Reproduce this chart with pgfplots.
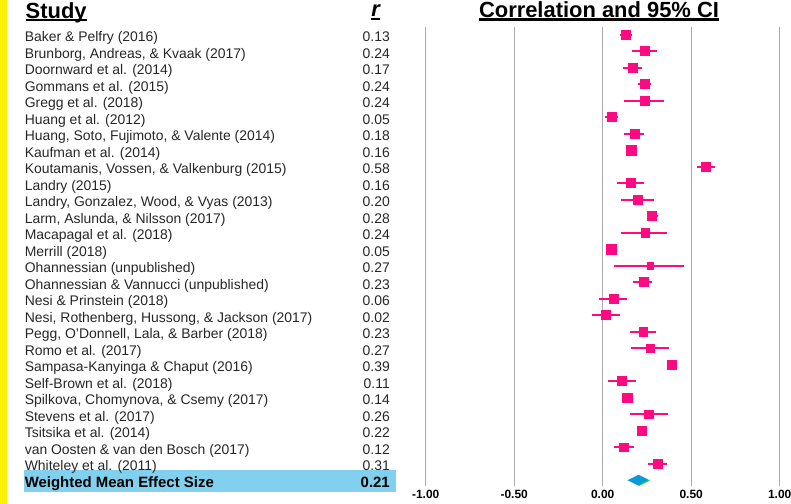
\documentclass[border=0pt]{standalone}
\usepackage{pgfplots}
\pgfplotsset{compat=1.18}
\usepackage{pgfplotstable}
\usepackage{fontspec}
\setmainfont{Liberation Sans}
\definecolor{fpink}{HTML}{FF0A80}
\definecolor{mblue}{HTML}{80D0EE}
\definecolor{dblue}{HTML}{0A9ADA}
\definecolor{ygreen}{HTML}{33DD33}
\definecolor{gline}{HTML}{ABABAB}
\newcommand\ulbox[3]{\setbox0\hbox{#3}\rlap{\rule[-#1]{\wd0}{#2}}\box0}
\newcommand\lab[2]{\hbox to 365bp{#1\hfill #2}}

\pgfplotstableread{
row r lo hi sz
0 0.13 0.098 0.164 4.5
1 0.24 0.164 0.307 4.5
2 0.17 0.113 0.224 4.5
3 0.24 0.201 0.271 4.5
4 0.24 0.122 0.345 4.5
5 0.05 0.011 0.085 4.5
6 0.18 0.122 0.235 4.5
7 0.16 0.140 0.180 4.8
8 0.58 0.531 0.635 4.5
9 0.16 0.081 0.235 4.5
10 0.20 0.102 0.288 4.5
11 0.28 0.249 0.314 4.5
12 0.24 0.102 0.362 4.2
13 0.05 0.030 0.070 4.8
14 0.27 0.066 0.458 3.3
15 0.23 0.173 0.280 4.5
16 0.06 -0.019 0.136 4.5
17 0.02 -0.059 0.098 4.5
18 0.23 0.153 0.299 4.3
19 0.27 0.162 0.375 4.3
20 0.39 0.370 0.410 4.8
21 0.11 0.032 0.186 4.5
22 0.14 0.120 0.160 4.8
23 0.26 0.153 0.367 4.3
24 0.22 0.200 0.240 4.7
25 0.12 0.062 0.179 4.3
26 0.31 0.258 0.362 4.5
}\studies

\begin{document}
\begin{tikzpicture}
\useasboundingbox (0,0) rectangle (791bp,-504bp);
\fill[yellow] (0,0) rectangle (7.3bp,-504bp);
\fill[mblue] (24bp,-470bp) rectangle (396bp,-492bp);
\node[anchor=base west, inner sep=0pt, font=\bfseries\fontsize{22}{22}\selectfont] at (25.5bp,-18bp) {\ulbox{3bp}{2bp}{Study}};
\node[anchor=base east, inner sep=0pt, font=\bfseries\itshape\fontsize{22}{22}\selectfont] at (380bp,-16bp) {\ulbox{3.5bp}{2bp}{r}};
\node[anchor=base, inner sep=0pt, font=\bfseries\fontsize{22}{22}\selectfont] at (599bp,-17bp) {\ulbox{3.5bp}{2.3bp}{Correlation and 95\% CI}};
\begin{axis}[
 at={(408bp,-27bp)}, anchor=north west,
 scale only axis, width=389.4bp, height=459bp,
 xmin=-1.1, xmax=1.1, ymin=-0.467, ymax=27.35, y dir=reverse,
 axis line style={draw=none}, tick style={draw=none}, major tick length=0pt,
 xmajorgrids, grid style={gline, line width=1.3bp},
 xtick={-1,-0.5,0,0.5,1},
 xticklabels={-1.00,-0.50,0.00,0.50,1.00},
 xticklabel style={font=\bfseries\fontsize{12}{12}\selectfont, inner sep=0pt, anchor=north, yshift=-3.5bp},
 ytick={0,...,27},
 yticklabels={
 {\lab{Baker \& Pelfry (2016)}{0.13}},
 {\lab{Brunborg, Andreas, \& Kvaak (2017)}{0.24}},
 {\lab{Doornward et al. (2014)}{0.17}},
 {\lab{Gommans et al. (2015)}{0.24}},
 {\lab{Gregg et al. (2018)}{0.24}},
 {\lab{Huang et al. (2012)}{0.05}},
 {\lab{Huang, Soto, Fujimoto, \& Valente (2014)}{0.18}},
 {\lab{Kaufman et al. (2014)}{0.16}},
 {\lab{Koutamanis, Vossen, \& Valkenburg (2015)}{0.58}},
 {\lab{Landry (2015)}{0.16}},
 {\lab{Landry, Gonzalez, Wood, \& Vyas (2013)}{0.20}},
 {\lab{Larm, Aslunda, \& Nilsson (2017)}{0.28}},
 {\lab{Macapagal et al. (2018)}{0.24}},
 {\lab{Merrill (2018)}{0.05}},
 {\lab{Ohannessian (unpublished)}{0.27}},
 {\lab{Ohannessian \& Vannucci (unpublished)}{0.23}},
 {\lab{Nesi \& Prinstein (2018)}{0.06}},
 {\lab{Nesi, Rothenberg, Hussong, \& Jackson (2017)}{0.02}},
 {\lab{Pegg, O'Donnell, Lala, \& Barber (2018)}{0.23}},
 {\lab{Romo et al. (2017)}{0.27}},
 {\lab{Sampasa-Kanyinga \& Chaput (2016)}{0.39}},
 {\lab{Self-Brown et al. (2018)}{0.11}},
 {\lab{Spilkova, Chomynova, \& Csemy (2017)}{0.14}},
 {\lab{Stevens et al. (2017)}{0.26}},
 {\lab{Tsitsika et al. (2014)}{0.22}},
 {\lab{van Oosten \& van den Bosch (2017)}{0.12}},
 {\lab{Whiteley et al. (2011)}{0.31}},
 {\hbox to 365bp{\color{black}\bfseries\fontsize{15}{15}\selectfont Weighted Mean Effect Size\hfill 0.21}}
 },
 yticklabel style={anchor=base east, inner sep=0pt, xshift=-18bp, yshift=-7bp, font=\fontsize{14}{14}\selectfont, text=black!85},
 clip=false,
]
\addplot[draw=none, mark=none, forget plot,
 error bars/.cd, x dir=both, x explicit, error mark=none,
 error bar style={fpink, line width=1.7bp}]
 table[x=r, y=row, x error plus expr=\thisrow{hi}-\thisrow{r}, x error minus expr=\thisrow{r}-\thisrow{lo}] {\studies};
\addplot[scatter, only marks, mark=square*,
 scatter/use mapped color={draw=fpink, fill=fpink},
 visualization depends on={\thisrow{sz}\as\msz},
 scatter/@pre marker code/.append style={/tikz/mark size=\msz},
 mark options={line width=0.6bp}]
 table[x=r, y=row, meta=sz] {\studies};
\addplot[fill=dblue, draw=none] coordinates {(0.14,27) (0.203,26.67) (0.265,27) (0.203,27.33)} -- cycle;
\addplot[ygreen, line width=1bp] coordinates {(0.203,27.33) (0.265,27)};
\end{axis}
\end{tikzpicture}
\end{document}
